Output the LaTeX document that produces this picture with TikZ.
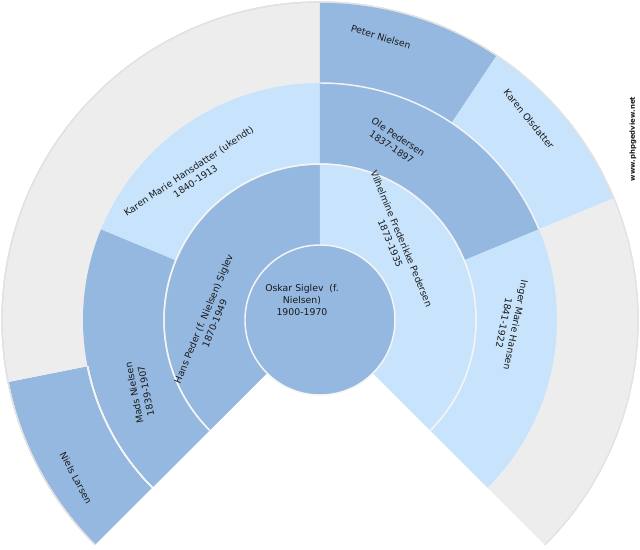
\documentclass[tikz,border=0pt]{standalone}
\usepackage{fontspec}
\setmainfont{DejaVu Sans}
\usetikzlibrary{positioning}
\definecolor{ink}{HTML}{1A1A1A}
\definecolor{male}{HTML}{95B8E0}
\definecolor{female}{HTML}{C8E4FC}
\definecolor{unknown}{HTML}{EDEDED}
\definecolor{rim}{HTML}{F4F4F4}
\definecolor{edge}{HTML}{E2E2E2}
\newcommand{\fanblock}[4]{\fill[#1] (0,0) -- (#2:#4) arc[start angle=#2, end angle=#3, radius=#4] -- cycle;}
\tikzset{
  lbl/.style={font=\fontsize{7}{9}\selectfont,text=ink,align=center,inner sep=0pt},
  wlbl/.style={font=\fontsize{5.2}{6}\selectfont\bfseries,text=ink,inner sep=0pt},
  rimline/.style={draw=rim,line width=1.1},
}

\begin{document}
\begin{tikzpicture}[x=0.75pt,y=0.75pt]
  \useasboundingbox (-320,-230) rectangle (320,320);
  % third generation
  \foreach \c/\a/\b in {male/225/191.25,unknown/191.25/90,male/90/56.25,female/56.25/22.5,unknown/22.5/-45}
    \fanblock{\c}{\a}{\b}{318}
  \draw[edge,line width=0.8] (225:318) arc[start angle=225,end angle=-45,radius=318];
  % grandparents
  \foreach \c/\a/\b in {male/225/157.5,female/157.5/90,male/90/22.5,female/22.5/-45}
    \fanblock{\c}{\a}{\b}{237}
  \draw[rimline] (225:237) arc[start angle=225,end angle=191.25,radius=237];
  \draw[rimline] (90:237) arc[start angle=90,end angle=22.5,radius=237];
  % parents
  \foreach \c/\a/\b in {male/225/90,female/90/-45}
    \fanblock{\c}{\a}{\b}{156}
  \draw[rimline] (225:156) arc[start angle=225,end angle=-45,radius=156];
  % root person
  \fill[male] (0,0) circle[radius=75];
  \draw[rimline] (0,0) circle[radius=75];

  \node[lbl] (root) at (-18,20) {Oskar Siglev~~(f.\\Nielsen)\\1900-1970};
  \node[lbl,rotate=67.5] (father) at (-111,-1) {Hans Peder (f. Nielsen) Siglev\\1870-1949};
  \node[lbl,rotate=-67.5] (mother) at (76,79) {Vilhelmine Frederikke Pedersen\\1873-1935};
  \node[lbl,rotate=101.25] (ff) at (-180,-72) {Mads Nielsen\\1839-1907};
  \node[lbl,rotate=33.75] (fm) at (-128,144) {Karen Marie Hansdatter (ukendt)\\1840-1913};
  \node[lbl,rotate=-33.75] (mf) at (75,178) {Ole Pedersen\\1837-1897};
  \node[lbl,rotate=-101.25] (mm) at (190,-4) {Inger Marie Hansen\\1841-1922};
  \node[lbl,rotate=-61.875] (fff) at (-244,-158) {Niels Larsen};
  \node[lbl,rotate=-16.875] (mff) at (61,283) {Peter Nielsen};
  \node[lbl,rotate=-50.625] (mfm) at (209,201) {Karen Olsdatter};
  \node[wlbl,rotate=90] (site) at (313,181) {www.phpgedview.net};
\end{tikzpicture}
\end{document}
